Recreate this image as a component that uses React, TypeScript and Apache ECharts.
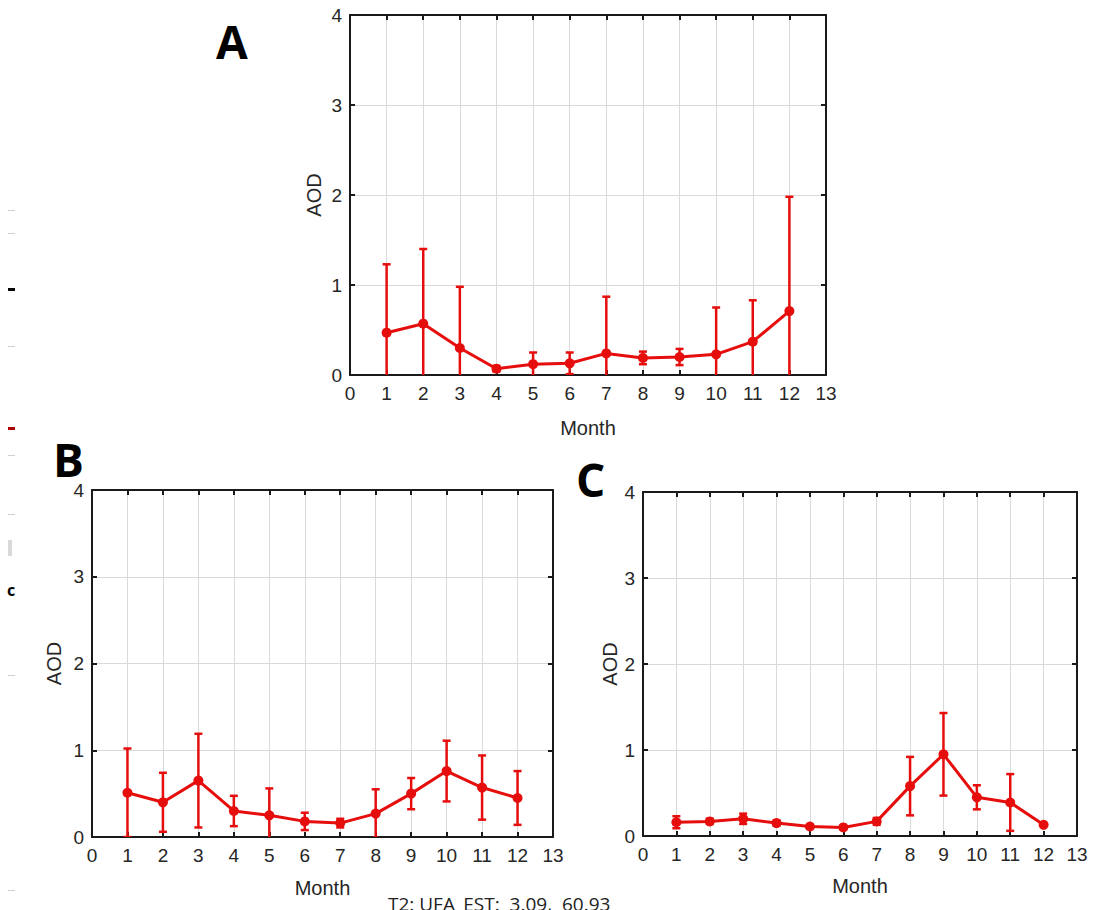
import React, { useEffect, useRef } from "react";
import * as echarts from "echarts";

const months = [1, 2, 3, 4, 5, 6, 7, 8, 9, 10, 11, 12];
const xTicks = [0, 1, 2, 3, 4, 5, 6, 7, 8, 9, 10, 11, 12, 13];
const yTicks = [0, 1, 2, 3, 4];

const aodA = [0.47, 0.57, 0.3, 0.07, 0.12, 0.13, 0.24, 0.19, 0.2, 0.23, 0.37, 0.71];
const errA = [0.76, 0.83, 0.68, 0.03, 0.13, 0.12, 0.63, 0.07, 0.09, 0.52, 0.46, 1.27];
const aodB = [0.51, 0.4, 0.65, 0.3, 0.25, 0.18, 0.16, 0.27, 0.5, 0.76, 0.57, 0.45];
const errB = [0.51, 0.34, 0.54, 0.175, 0.31, 0.1, 0.05, 0.28, 0.18, 0.35, 0.37, 0.31];
const aodC = [0.16, 0.17, 0.2, 0.15, 0.11, 0.1, 0.17, 0.58, 0.95, 0.45, 0.39, 0.13];
const errC = [0.07, 0.03, 0.06, 0.03, 0.02, 0.02, 0.04, 0.34, 0.48, 0.14, 0.33, 0.01];

const panelLabels = ["A", "B", "C"];
const xName = "Month";
const yName = "AOD";
const footnote = "T2: UFA_EST:  3.09,  60.93";

const RED = "#e60d0d";
const TXT = "#262626";
const FONT = "Liberation Sans, Arial, sans-serif";

export default function App() {
  const ref = useRef<HTMLDivElement>(null);
  useEffect(() => {
    if (!ref.current) return;
    const chart = echarts.init(ref.current, undefined, { renderer: "svg" });
    const grids = [
      { left: 350, top: 15, width: 476, height: 360 },
      { left: 92, top: 490, width: 461, height: 347 },
      { left: 643, top: 492, width: 434, height: 344 },
    ];
    const yGaps = [26, 28, 23];
    const xGaps = [43, 41, 40];
    const means = [aodA, aodB, aodC];
    const errs = [errA, errB, errC];

    const lineCol = "#1a1a1a";
    const xAxes: any[] = [];
    const yAxes: any[] = [];
    const series: any[] = [];
    grids.forEach((g, i) => {
      xAxes.push({
        type: "value",
        gridIndex: i,
        min: xTicks[0],
        max: xTicks[xTicks.length - 1],
        interval: 1,
        position: "bottom",
        name: xName,
        nameLocation: "middle",
        nameGap: xGaps[i],
        nameTextStyle: { fontFamily: FONT, fontSize: 20, color: TXT },
        axisLine: { show: true, onZero: false, lineStyle: { color: lineCol, width: 2 } },
        axisTick: { show: true, inside: true, length: 5, lineStyle: { color: lineCol, width: 2 } },
        axisLabel: { fontFamily: FONT, fontSize: 19, color: TXT, margin: 9 },
        splitLine: { show: true, lineStyle: { color: "#d9d9d9", width: 1 } },
      });
      xAxes.push({
        type: "value",
        gridIndex: i,
        min: xTicks[0],
        max: xTicks[xTicks.length - 1],
        interval: 1,
        position: "top",
        axisLine: { show: true, onZero: false, lineStyle: { color: lineCol, width: 2 } },
        axisTick: { show: true, inside: true, length: 5, lineStyle: { color: lineCol, width: 2 } },
        axisLabel: { show: false },
        splitLine: { show: false },
      });
      yAxes.push({
        type: "value",
        gridIndex: i,
        min: yTicks[0],
        max: yTicks[yTicks.length - 1],
        interval: 1,
        position: "left",
        name: yName,
        nameLocation: "middle",
        nameGap: yGaps[i],
        nameRotate: 90,
        nameTextStyle: { fontFamily: FONT, fontSize: 20, color: TXT },
        axisLine: { show: true, onZero: false, lineStyle: { color: lineCol, width: 2 } },
        axisTick: { show: true, inside: true, length: 5, lineStyle: { color: lineCol, width: 2 } },
        axisLabel: { fontFamily: FONT, fontSize: 19, color: TXT, margin: 8 },
        splitLine: { show: true, lineStyle: { color: "#d9d9d9", width: 1 } },
      });
      yAxes.push({
        type: "value",
        gridIndex: i,
        min: yTicks[0],
        max: yTicks[yTicks.length - 1],
        interval: 1,
        position: "right",
        axisLine: { show: true, onZero: false, lineStyle: { color: lineCol, width: 2 } },
        axisTick: { show: true, inside: true, length: 5, lineStyle: { color: lineCol, width: 2 } },
        axisLabel: { show: false },
        splitLine: { show: false },
      });

      const m = means[i];
      const e = errs[i];
      series.push({
        type: "custom",
        xAxisIndex: i * 2,
        yAxisIndex: i * 2,
        clip: true,
        data: months.map((mo, k) => [mo, m[k] - e[k], m[k] + e[k]]),
        renderItem: (params: any, api: any) => {
          const x = api.value(0);
          const lo = api.coord([x, api.value(1)]);
          const hi = api.coord([x, api.value(2)]);
          const cw = 4;
          const style = { stroke: RED, lineWidth: 2.5 };
          return {
            type: "group",
            children: [
              { type: "line", shape: { x1: lo[0], y1: lo[1], x2: hi[0], y2: hi[1] }, style },
              { type: "line", shape: { x1: hi[0] - cw, y1: hi[1], x2: hi[0] + cw, y2: hi[1] }, style },
              { type: "line", shape: { x1: lo[0] - cw, y1: lo[1], x2: lo[0] + cw, y2: lo[1] }, style },
            ],
          };
        },
        z: 3,
      });
      series.push({
        type: "line",
        xAxisIndex: i * 2,
        yAxisIndex: i * 2,
        data: months.map((mo, k) => [mo, m[k]]),
        symbol: "circle",
        symbolSize: 10,
        lineStyle: { color: RED, width: 3 },
        itemStyle: { color: RED },
        z: 4,
      });
    });

    const labelPos = [
      { x: 216, y: 18 },
      { x: 53, y: 436 },
      { x: 576, y: 456 },
    ];
    const graphic: any[] = panelLabels.map((t, i) => ({
      type: "text",
      left: labelPos[i].x,
      top: labelPos[i].y,
      style: { text: t, font: "bold 46px 'Open Sans', sans-serif", lineHeight: 35, fill: "#000" },
    }));
    graphic.push({
      type: "text",
      left: 388,
      top: 894,
      style: { text: footnote, font: "19px 'Open Sans', sans-serif", fill: "#222" },
    });
    const faintY = [210, 233, 346, 455, 514, 675, 890];
    faintY.forEach((y) => {
      graphic.push({ type: "rect", shape: { x: 8, y, width: 7, height: 1 }, style: { fill: "#cfcfcf" } });
    });
    graphic.push({ type: "rect", shape: { x: 8, y: 288, width: 7, height: 3 }, style: { fill: "#000" } });
    graphic.push({ type: "rect", shape: { x: 8, y: 427, width: 7, height: 3 }, style: { fill: "#b00000" } });
    graphic.push({ type: "rect", shape: { x: 8, y: 540, width: 4, height: 16 }, style: { fill: "#d9d9d9" } });
    graphic.push({
      type: "text",
      left: 7,
      top: 582,
      style: { text: "c", font: "bold 16px 'Open Sans', sans-serif", fill: "#000" },
    });

    chart.setOption({
      animation: false,
      backgroundColor: "#fff",
      grid: grids.map((g) => ({ ...g, show: false, containLabel: false })),
      xAxis: xAxes,
      yAxis: yAxes,
      series,
      graphic,
    });
    return () => chart.dispose();
  }, []);
  return (
    <div
      ref={ref}
      style={{ position: "fixed", left: 0, top: 0, width: 1115, height: 910 }}
    />
  );
}
